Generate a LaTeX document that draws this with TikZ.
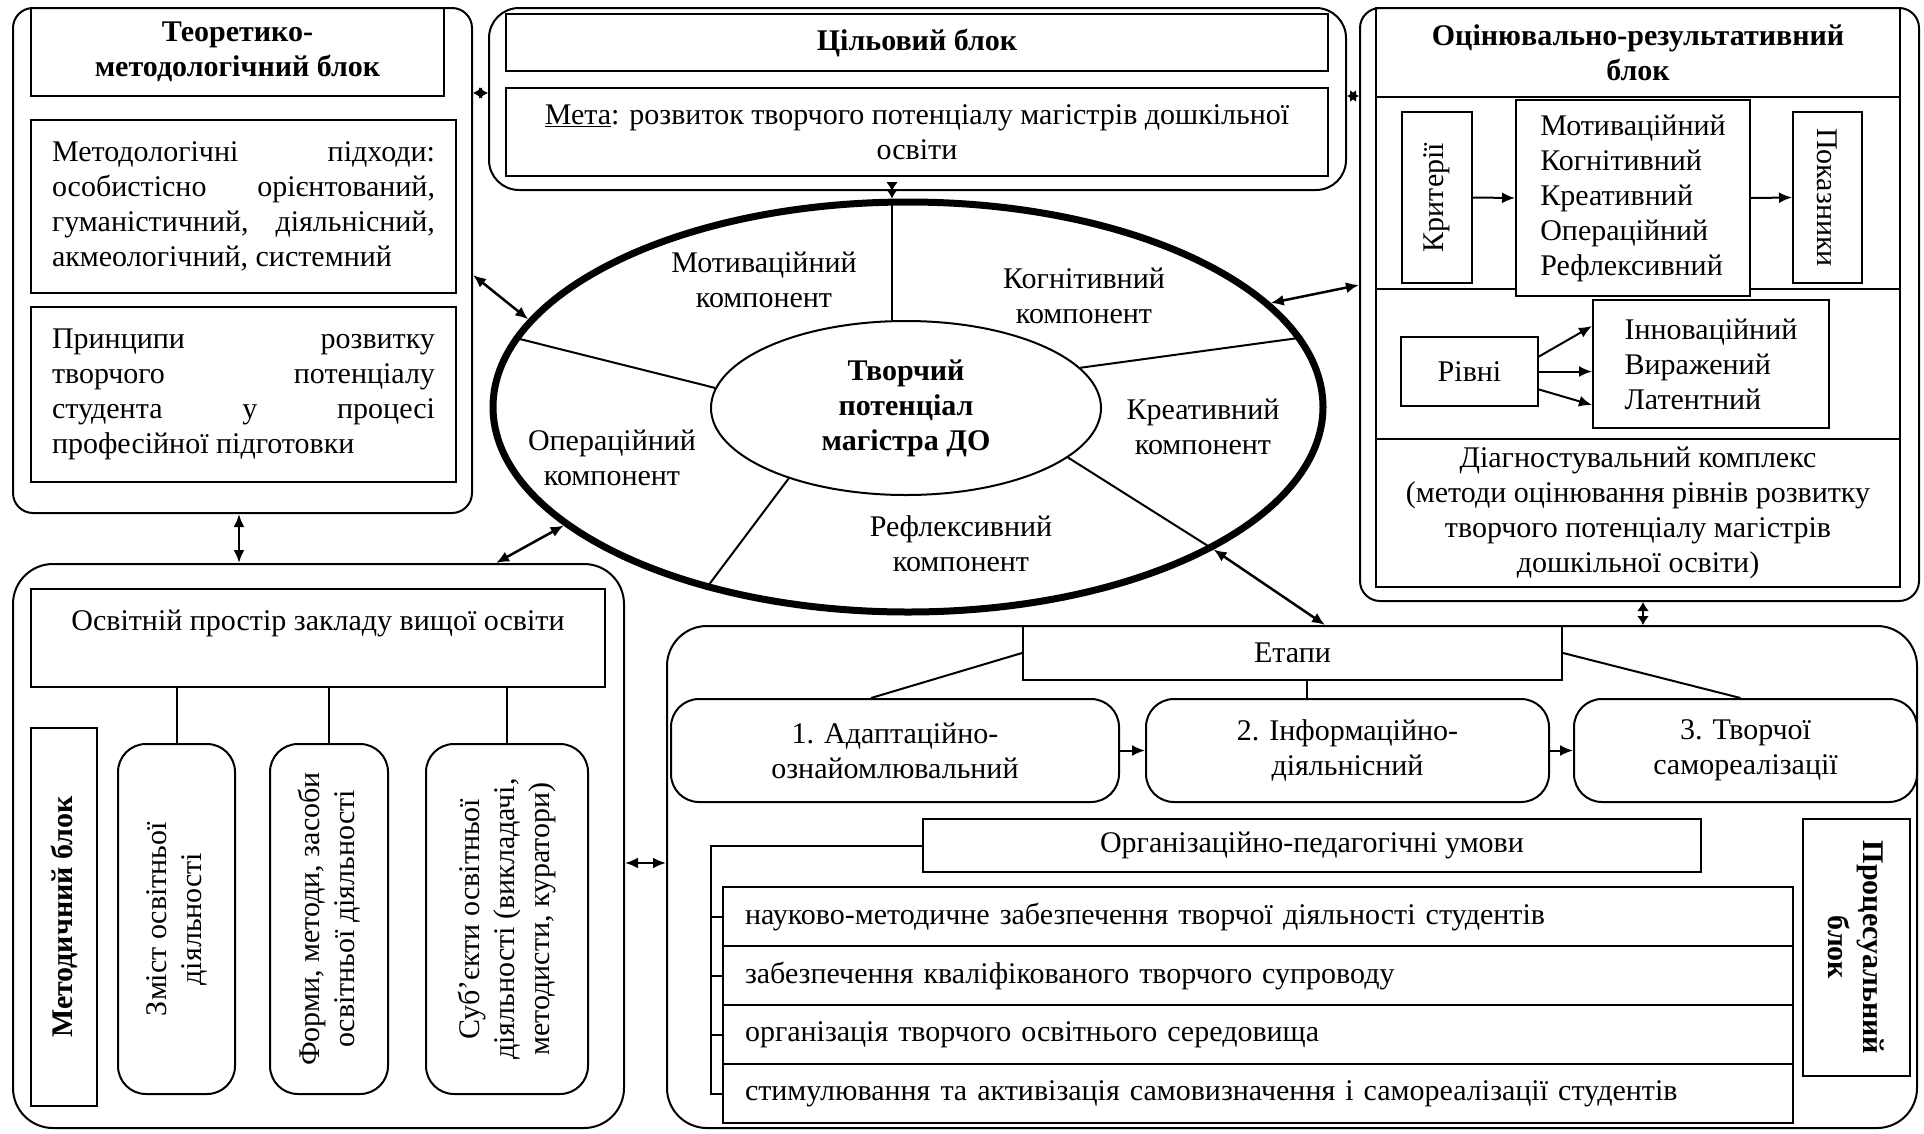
\documentclass[tikz,border=0pt]{standalone}
\usepackage{fontspec}
\setmainfont{Liberation Serif}
\usetikzlibrary{arrows.meta}
\usetikzlibrary{shapes.geometric}
\usetikzlibrary{positioning}

\newcommand{\bodyfont}{\fontsize{30}{35}\selectfont}
\newcommand{\jline}[1]{\makebox[383pt][s]{#1}}

\begin{document}
\begin{tikzpicture}[x=1pt, y=-1pt, line width=2, font=\bodyfont, >={Latex[length=13,width=11]}]
	\tikzstyle{blok}=[draw, inner sep=0]
	\tikzstyle{box}=[draw, align=center]
	\tikzstyle{rbox}=[draw, rounded corners=28, align=center]
	\tikzstyle{hdr}=[font=\bodyfont\bfseries]
	\tikzstyle{link}=[<->, line width=2.5]
	\tikzstyle{tie}=[<->, line width=2.5, >={Latex[length=9,width=12]}]
	\useasboundingbox (0,0) rectangle (1924,1133);

	\node[blok, rounded corners=20, minimum width=459, minimum height=505] (tmb) at (242.5,260.5) {};
	\node[box, hdr, minimum width=413, minimum height=88] (tmbt) at (237.5,52) {Теоретико-\\методологічний блок};
	\node[box, minimum width=425, minimum height=173, align=left] (pidh) at (243.5,206) {\jline{Методологічні підходи:}\\\jline{особистісно орієнтований,}\\\jline{гуманістичний, діяльнісний,}\\акмеологічний, системний};
	\node[box, minimum width=425, minimum height=175, align=left] (pryn) at (243.5,394.5) {\jline{Принципи розвитку}\\\jline{творчого потенціалу}\\\jline{студента у процесі}\\професійної підготовки};

	\node[blok, rounded corners=30, minimum width=857, minimum height=182] (cb) at (917.5,99) {};
	\node[box, hdr, minimum width=822, minimum height=57] (cbt) at (917,42.5) {Цільовий блок};
	\node[box, minimum width=822, minimum height=88] (meta) at (917,132) {\underline{Мета}: розвиток творчого потенціалу магістрів дошкільної\\освіти};

	\node[blok, rounded corners=20, minimum width=559, minimum height=593] (orb) at (1639.5,304.5) {};
	\node[box, hdr, minimum width=524, minimum height=89] (orbt) at (1638,52.5) {Оцінювально-результативний\\блок};
	\node[draw, minimum width=524, minimum height=192] (orbc) at (1638,193) {};
	\node[draw, minimum width=524, minimum height=150] (orbl) at (1638,364) {};
	\node[box, inner ysep=2, minimum width=524, minimum height=148] (orbd) at (1638,513) {Діагностувальний комплекс\\(методи оцінювання рівнів розвитку\\творчого потенціалу магістрів\\дошкільної освіти)};
	\node[box, minimum width=171, minimum height=70, rotate=90] (krit) at (1437,197.5) {Критерії};
	\node[box, fill=white, minimum width=234, minimum height=196, align=left] (komp) at (1633,198) {Мотиваційний\\Когнітивний\\Креативний\\Операційний\\Рефлексивний};
	\node[box, minimum width=171, minimum height=69, rotate=-90] (pokaz) at (1827.5,197.5) {Показники};
	\node[box, minimum width=137, minimum height=69] (rivni) at (1469.5,371.5) {Рівні};
	\node[box, minimum width=236, minimum height=128, align=left] (rivnil) at (1711,364) {Інноваційний\\Виражений\\Латентний};
	\draw[->] (krit.south) -- (komp.west);
	\draw[->] (komp.east) -- (pokaz.south);
	\draw[->] ([yshift=15]rivni.east) -- ([yshift=38]rivnil.west);
	\draw[->] (rivni.east) -- (rivnil.west |- rivni.east);
	\draw[->] ([yshift=-18]rivni.east) -- ([yshift=-41]rivnil.west);

	\node[ellipse, draw, line width=7, minimum width=830, minimum height=410, inner sep=0] (ring) at (908,407) {};
	\node[ellipse, draw, hdr, minimum width=390, minimum height=174, inner sep=0, align=center] (core) at (906,408) {Творчий\\потенціал\\магістра ДО};
	\draw (core.99) -- (core.99 |- ring.north);
	\draw (core.174) -- (ring.170);
	\draw (core.13) -- (ring.10);
	\draw (core.343) -- (ring.335);
	\draw (core.211) -- (ring.222);
	\node[align=center] (motiv) at (764,280) {Мотиваційний\\компонент};
	\node[align=center] (kogn) at (1084,296) {Когнітивний\\компонент};
	\node[align=center] (kreat) at (1203,427) {Креативний\\компонент};
	\node[align=center] (oper) at (612,458) {Операційний\\компонент};
	\node[align=center] (refl) at (961,544) {Рефлексивний\\компонент};

	\node[blok, rounded corners=40, minimum width=611, minimum height=564] (osv) at (318.5,846) {};
	\node[box, minimum width=574, minimum height=98] (prostir) at (318,638) {Освітній простір закладу вищої освіти\\ \mbox{}};
	\node[box, hdr, minimum width=378, minimum height=66, rotate=90] (metod) at (64,917) {Методичний блок};
	\node[rbox, minimum width=350, minimum height=117, rotate=90] (zmist) at (176.5,919) {Зміст освітньої\\діяльності};
	\node[rbox, minimum width=350, minimum height=118, rotate=90] (formy) at (329,919) {Форми, методи, засоби\\освітньої діяльності};
	\node[rbox, minimum width=350, minimum height=162, rotate=90] (subj) at (507,919) {Суб’єкти освітньої\\діяльності (викладачі,\\методисти, куратори)};
	\draw (zmist.east) -- (zmist.east |- prostir.south);
	\draw (formy.east) -- (formy.east |- prostir.south);
	\draw (subj.east) -- (subj.east |- prostir.south);

	\node[blok, rounded corners=40, minimum width=1250, minimum height=502] (proc) at (1292,877) {};
	\node[box, minimum width=539, minimum height=54] (etapy) at (1292.5,653) {Етапи};
	\node[rbox, minimum width=448, minimum height=103] (st1) at (895,750.5) {1. Адаптаційно-\\ознайомлювальний};
	\node[rbox, minimum width=403, minimum height=103, right=25 of st1] (st2) {2. Інформаційно-\\діяльнісний};
	\node[rbox, minimum width=343, minimum height=103, right=23 of st2] (st3) {3. Творчої\\самореалізації};
	\draw (etapy.west) -- ([xshift=-24]st1.north);
	\draw (etapy.east) -- ([xshift=-5]st3.north);
	\draw (etapy.south -| 1307,0) -- (st2.north -| 1307,0);
	\draw[->] (st1) -- (st2);
	\draw[->] (st2) -- (st3);
	\node[box, minimum width=778, minimum height=53] (umovy) at (1312,845.5) {Організаційно-педагогічні умови};
	\node[box, hdr, minimum width=257, minimum height=107, rotate=-90] (procl) at (1856.5,947.5) {Процесуальний\\блок};
	\node[box, minimum width=1070, minimum height=59, text width=1026, align=left] (u1) at (1258,916.5) {науково-методичне забезпечення творчої діяльності студентів};
	\node[box, minimum width=1070, minimum height=59, text width=1026, align=left] (u2) at (1258,975.5) {забезпечення кваліфікованого творчого супроводу};
	\node[box, minimum width=1070, minimum height=59, text width=1026, align=left] (u3) at (1258,1034.5) {організація творчого освітнього середовища};
	\node[box, minimum width=1070, minimum height=59, text width=1026, align=left] (u4) at (1258,1093.5) {стимулювання та активізація самовизначення і самореалізації студентів};
	\draw (umovy.west) -| (711,0 |- u4.west) -- (u4.west);
	\draw (u1.west) -- (u1.west -| 711,0);
	\draw (u2.west) -- (u2.west -| 711,0);
	\draw (u3.west) -- (u3.west -| 711,0);

	\draw[tie] (tmb.east |- 0,93) -- (cb.west |- 0,93);
	\draw[tie] (cb.east |- 0,96) -- (orb.west |- 0,96);
	\draw[tie] (cb.south -| 892,0) -- (ring.north -| 892,0);
	\draw[tie] (orb.south -| 1643,0) -- (proc.north -| 1643,0);
	\draw[link] (tmb.south -| 239,0) -- (osv.north -| 239,0);
	\draw[link] (tmb.east |- 0,275) -- (ring.167);
	\draw[link] (orb.west |- 0,285) -- (ring.16);
	\draw[link] (osv.north -| 496,0) -- (ring.199);
	\draw[link] (ring.335) -- (proc.north -| 1325,0);
	\draw[link] (osv.east |- 0,863) -- (proc.west |- 0,863);
\end{tikzpicture}
\end{document}
